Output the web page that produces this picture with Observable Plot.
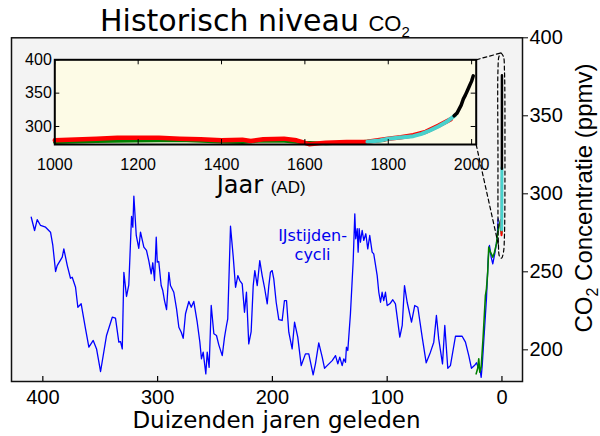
<!DOCTYPE html>
<html><head><meta charset="utf-8">
<script src="https://cdn.jsdelivr.net/npm/d3@7"></script>
<script src="https://cdn.jsdelivr.net/npm/@observablehq/plot@0.6"></script>
<style>
body{margin:0;background:#fff;}
#chart{position:relative;width:600px;height:436px;overflow:hidden;}
#chart svg{position:absolute;left:0;top:0;}
</style></head><body><div id="chart"></div>
<script>
// ---- Main panel: Vostok ice core (thousands of years ago, ppmv)
const vostokKyr = [410.1,407.2,404.9,402.0,397.6,393.3,391.3,388.9,387.5,383.1,381.7,378.7,375.9,374.4,371.5,369.5,366.6,362.8,359.9,356.1,353.2,349.7,344.5,339.5,336.7,333.8,332.3,330.8,329.4,327.1,325.1,322.7,321.6,320.7,318.6,316.4,314.9,312.0,309.7,307.7,305.6,304.2,302.7,301.2,300.3,299.0,296.9,295.5,294.0,292.2,290.2,288.8,285.9,283.5,281.5,279.4,277.7,275.7,272.8,270.7,268.5,265.5,263.2,261.8,260.3,258.0,256.8,255.1,253.3,251.0,248.7,246.7,243.7,241.7,240.0,238.9,236.5,234.1,232.1,230.1,228.4,226.3,224.3,222.6,220.6,218.5,216.7,215.3,213.2,211.0,208.9,206.9,204.5,203.1,201.7,200.2,198.8,196.7,194.4,191.5,189.5,187.7,185.7,182.8,180.7,177.9,174.9,171.2,168.3,164.5,162.5,159.6,156.6,154.6,152.3,147.9,145.0,143.0,141.3,139.2,137.8,136.3,135.5,134.3,132.0,129.6,128.2,127.4,126.1,125.3,124.4,123.3,121.8,120.4,118.6,116.9,115.2,113.1,111.7,108.7,107.3,105.8,104.4,103.0,101.5,100.0,97.7,95.1,92.8,89.0,86.9,84.9,82.6,78.8,76.0,73.3,69.5,66.0,62.3,59.4,57.1,55.1,51.8,49.8,47.2,44.9,40.5,34.7,31.8,28.9,26.6,24.0,22.2,20.7,19.3,18.1,17.2,15.9,13.5,12.0,10.9,9.4,8.0,6.3,4.2,3.3];
const vostokPpm = [285.0,276.5,283.5,279.7,278.6,275.4,266.9,250.2,254.0,259.4,264.7,254.0,245.9,246.5,240.1,227.3,229.5,213.5,201.7,206.0,200.6,186.1,209.2,220.9,220.3,204.9,205.3,200.6,249.7,234.2,241.7,285.6,278.6,298.5,273.3,265.1,275.4,265.8,263.7,257.2,248.7,255.8,244.4,272.2,256.2,256.6,241.2,238.0,231.6,225.8,249.7,241.2,236.9,226.3,214.5,211.3,207.4,223.1,231.0,227.3,231.0,217.7,204.9,194.2,198.5,184.6,198.5,188.8,228.4,210.3,209.2,203.2,196.3,208.1,215.6,219.9,279.2,259.4,240.1,247.6,244.4,242.3,224.1,236.9,203.8,211.7,241.2,250.8,241.2,257.2,247.6,240.1,229.5,241.2,249.7,250.8,245.5,230.5,219.4,218.8,231.6,231.6,211.3,200.6,217.7,208.1,189.9,197.4,197.4,184.0,191.0,204.5,195.3,188.2,189.9,193.1,196.3,191.0,195.3,189.9,194.2,192.0,201.7,199.6,223.1,257.2,287.2,271.2,277.6,262.6,277.6,269.0,276.5,270.1,274.4,264.7,273.3,262.6,261.5,247.6,236.9,230.5,236.9,231.6,236.9,228.4,229.5,232.1,229.5,208.1,215.6,241.2,230.5,217.7,228.4,227.3,208.1,191.7,198.5,204.9,222.0,207.0,191.0,215.6,188.2,189.9,208.7,208.7,204.9,196.3,188.2,189.9,191.7,188.8,188.2,182.4,189.9,205.0,232.7,258.3,266.9,259.4,255.1,261.5,271.2,284.0];

// ---- Main panel: second ice core record (green)
const domeKyr = [22.5,21.1,20.2,19.3,18.1,16.4,14.4,13.5,12.4,11.5,10.0,8.0,6.5,4.8,3.7,2.4,1.3];
const domePpm = [184.6,188.2,194.2,185.6,188.8,208.1,234.8,239.1,249.7,265.8,262.6,259.4,262.6,267.9,275.4,279.7,282.9];

// ---- Inset (last millennium), year AD and ppmv
const greenYear = [1000,1100,1200,1300,1400,1450,1500,1550,1600,1650,1700,1750,1790];
const greenPpm  = [276.5,277.8,278.8,279.3,277,276.5,278.8,278.3,276,274.5,275.5,277.5,279.5];
const redYear = [1000,1050,1100,1150,1200,1250,1300,1350,1400,1450,1470,1500,1550,1580,1610,1650,1700,1750,1800,1830,1860,1890,1920,1950];
const redPpm  = [279.3,280.5,281.8,283,283.3,283,281.8,281,279.3,280.3,278.3,280.8,281.8,279.3,273.5,275.8,276.8,277.3,281.5,284,287,292,301,311];
const cyanYear = [1750,1780,1800,1830,1860,1880,1900,1920,1940,1960];
const cyanPpm  = [277,279,281.5,283.5,285.5,289,294,300,307,316.5];
const blackYear = [1958,1965,1970,1975,1980,1985,1990,1995,2000,2004];
const blackPpm  = [316,320,326,332,341,347,354,361,368,376];

// ---- Axes
const mainXTicks = [400,300,200,100,0];
const mainYTicks = [200,250,300,350,400];
const insetXTicks = [1000,1200,1400,1600,1800,2000];
const insetYTicks = [300,350,400];

// ---- Annotation: zoom outline (kyr, ppm in main panel units)
const zoomLoopKyr = [0.87,-1.31,-2.18,-2.61,-2.18,-1.31,0.44,2.18,3.05,3.48,3.48,2.61,0.87];
const zoomLoopPpm = [390.3,388.0,379.0,328.0,273.5,262.6,258.7,260.0,267.1,327.8,379.0,388.0,390.3];
const zoomTopKyr = [22.47,0.87];   const zoomTopPpm = [385.9,390.3];
const zoomBotKyr = [22.47,3.05];   const zoomBotPpm = [331.6,267.1];
const glacialLabel = {kyr: 165, ppm: 267.5, text: "IJstijden-\ncycli"};

const zip = (xs, ys, kx, ky) => xs.map((v, i) => ({[kx]: v, [ky]: ys[i]}));
const vostok = zip(vostokKyr, vostokPpm, "kyr", "ppm");
const dome = zip(domeKyr, domePpm, "kyr", "ppm");
const green = zip(greenYear, greenPpm, "year", "ppm");
const red = zip(redYear, redPpm, "year", "ppm");
const cyan = zip(cyanYear, cyanPpm, "year", "ppm");
const black = zip(blackYear, blackPpm, "year", "ppm");
const toKyr = d => (2000 - d.year) / 1000;

const sans = "'Liberation Sans', Arial, sans-serif";
const deja = "'DejaVu Sans', sans-serif";

const mainFrameH = 436 - 37.3 - 55;
const main = Plot.plot({
  width: 600, height: 436,
  marginLeft: 11, marginRight: 78, marginTop: 37.3, marginBottom: 55,
  x: {domain: [427.3, -17.9], label: null},
  y: {domain: [179.7, 400], label: null},
  style: {background: "white", fontFamily: sans, fontSize: "20px", color: "black"},
  marks: [
    Plot.frame({fill: "#f3f3f3"}),
    Plot.line(vostok, {x: "kyr", y: "ppm", stroke: "#0000ff", strokeWidth: 1.3}),
    Plot.line(dome, {x: "kyr", y: "ppm", stroke: "#008000", strokeWidth: 1.6}),
    Plot.line(green, {x: toKyr, y: "ppm", stroke: "#008000", strokeWidth: 2}),
    Plot.line(red, {x: toKyr, y: "ppm", stroke: "#ff0000", strokeWidth: 2}),
    Plot.line(cyan, {x: toKyr, y: "ppm", stroke: "#48d1cc", strokeWidth: 3}),
    Plot.line(black, {x: toKyr, y: "ppm", stroke: "black", strokeWidth: 2.5}),
    Plot.line(zip(zoomLoopKyr, zoomLoopPpm, "k", "p"), {x: "k", y: "p", stroke: "black", strokeWidth: 1.2, strokeDasharray: "4,3", curve: "catmull-rom"}),
    Plot.line(zip(zoomTopKyr, zoomTopPpm, "k", "p"), {x: "k", y: "p", stroke: "black", strokeWidth: 1.2, strokeDasharray: "4,3"}),
    Plot.line(zip(zoomBotKyr, zoomBotPpm, "k", "p"), {x: "k", y: "p", stroke: "black", strokeWidth: 1.2, strokeDasharray: "4,3"}),
    Plot.text([glacialLabel], {x: "kyr", y: "ppm", text: "text", fill: "#0000ee", fontSize: 16, fontFamily: deja, lineHeight: 1.15, textAnchor: "middle", lineAnchor: "middle"}),
    Plot.ruleX(mainXTicks, {stroke: "black", strokeWidth: 1.2, insetTop: mainFrameH - 5}),
    Plot.axisX({ticks: mainXTicks, tickSize: 0, tickPadding: 8, tickFormat: "d", label: null}),
    Plot.axisY({anchor: "right", ticks: mainYTicks, tickSize: 5, tickPadding: 2, tickFormat: "d", label: null}),
    Plot.frame({stroke: "#111", strokeWidth: 1.5})
  ]
});

const inW = 490, inH = 170, inL = 54.3, inR = 14.3, inT = 19.3, inB = 66;
const inFW = inW - inL - inR, inFH = inH - inT - inB;
const inset = Plot.plot({
  width: inW, height: inH,
  marginLeft: inL, marginRight: inR, marginTop: inT, marginBottom: inB,
  x: {domain: [1000, 2011], label: null},
  y: {domain: [273, 400], label: null},
  style: {background: "transparent", fontFamily: sans, fontSize: "16px", color: "black"},
  marks: [
    Plot.frame({fill: "#fdfbe6"}),
    Plot.line(green, {x: "year", y: "ppm", stroke: "#008000", strokeWidth: 3.5}),
    Plot.line(red, {x: "year", y: "ppm", stroke: "#ff0000", strokeWidth: 4.5}),
    Plot.line(cyan, {x: "year", y: "ppm", stroke: "#48d1cc", strokeWidth: 4}),
    Plot.line(black, {x: "year", y: "ppm", stroke: "black", strokeWidth: 3.5}),
    Plot.ruleX(insetXTicks, {stroke: "black", insetTop: inFH - 5}),
    Plot.ruleX(insetXTicks, {stroke: "black", insetBottom: inFH - 5}),
    Plot.ruleY(insetYTicks, {stroke: "black", insetRight: inFW - 5}),
    Plot.ruleY(insetYTicks, {stroke: "black", insetLeft: inFW - 5}),
    Plot.axisX({ticks: insetXTicks, tickSize: 0, tickPadding: 14, tickFormat: "d", label: null}),
    Plot.axisY({ticks: insetYTicks, tickSize: 0, tickPadding: 3, tickFormat: "d", label: null}),
    Plot.frame({stroke: "black", strokeWidth: 2})
  ]
});
inset.style.top = "40px";

const chart = document.getElementById("chart");
chart.appendChild(main);
chart.appendChild(inset);

// Titles and axis titles as real text
const svg = d3.select(main);
const title = svg.append("text").attr("x", 100).attr("y", 31).attr("text-anchor", "start").attr("fill", "black");
title.append("tspan").attr("font-family", deja).attr("font-size", 30).text("Historisch niveau ");
title.append("tspan").attr("font-family", sans).attr("font-size", 22).text("CO");
title.append("tspan").attr("font-family", sans).attr("font-size", 15).attr("dy", 6).text("2");

svg.append("text").attr("x", 276.5).attr("y", 428).attr("text-anchor", "middle")
  .attr("font-family", deja).attr("font-size", 23).attr("fill", "black").text("Duizenden jaren geleden");

const ylab = svg.append("text").attr("transform", "translate(592,198) rotate(-90)")
  .attr("text-anchor", "middle").attr("font-family", sans).attr("font-size", 24).attr("fill", "black");
ylab.append("tspan").text("CO");
ylab.append("tspan").attr("font-size", 16).attr("dy", 6).text("2");
ylab.append("tspan").attr("dy", -6).text(" Concentratie (ppmv)");

const jaar = d3.select(inset).append("text").attr("x", 216.7).attr("y", 153).attr("text-anchor", "start").attr("fill", "black");
jaar.append("tspan").attr("font-family", deja).attr("font-size", 24).text("Jaar ");
jaar.append("tspan").attr("font-family", sans).attr("font-size", 17).text("(AD)");
</script></body></html>
